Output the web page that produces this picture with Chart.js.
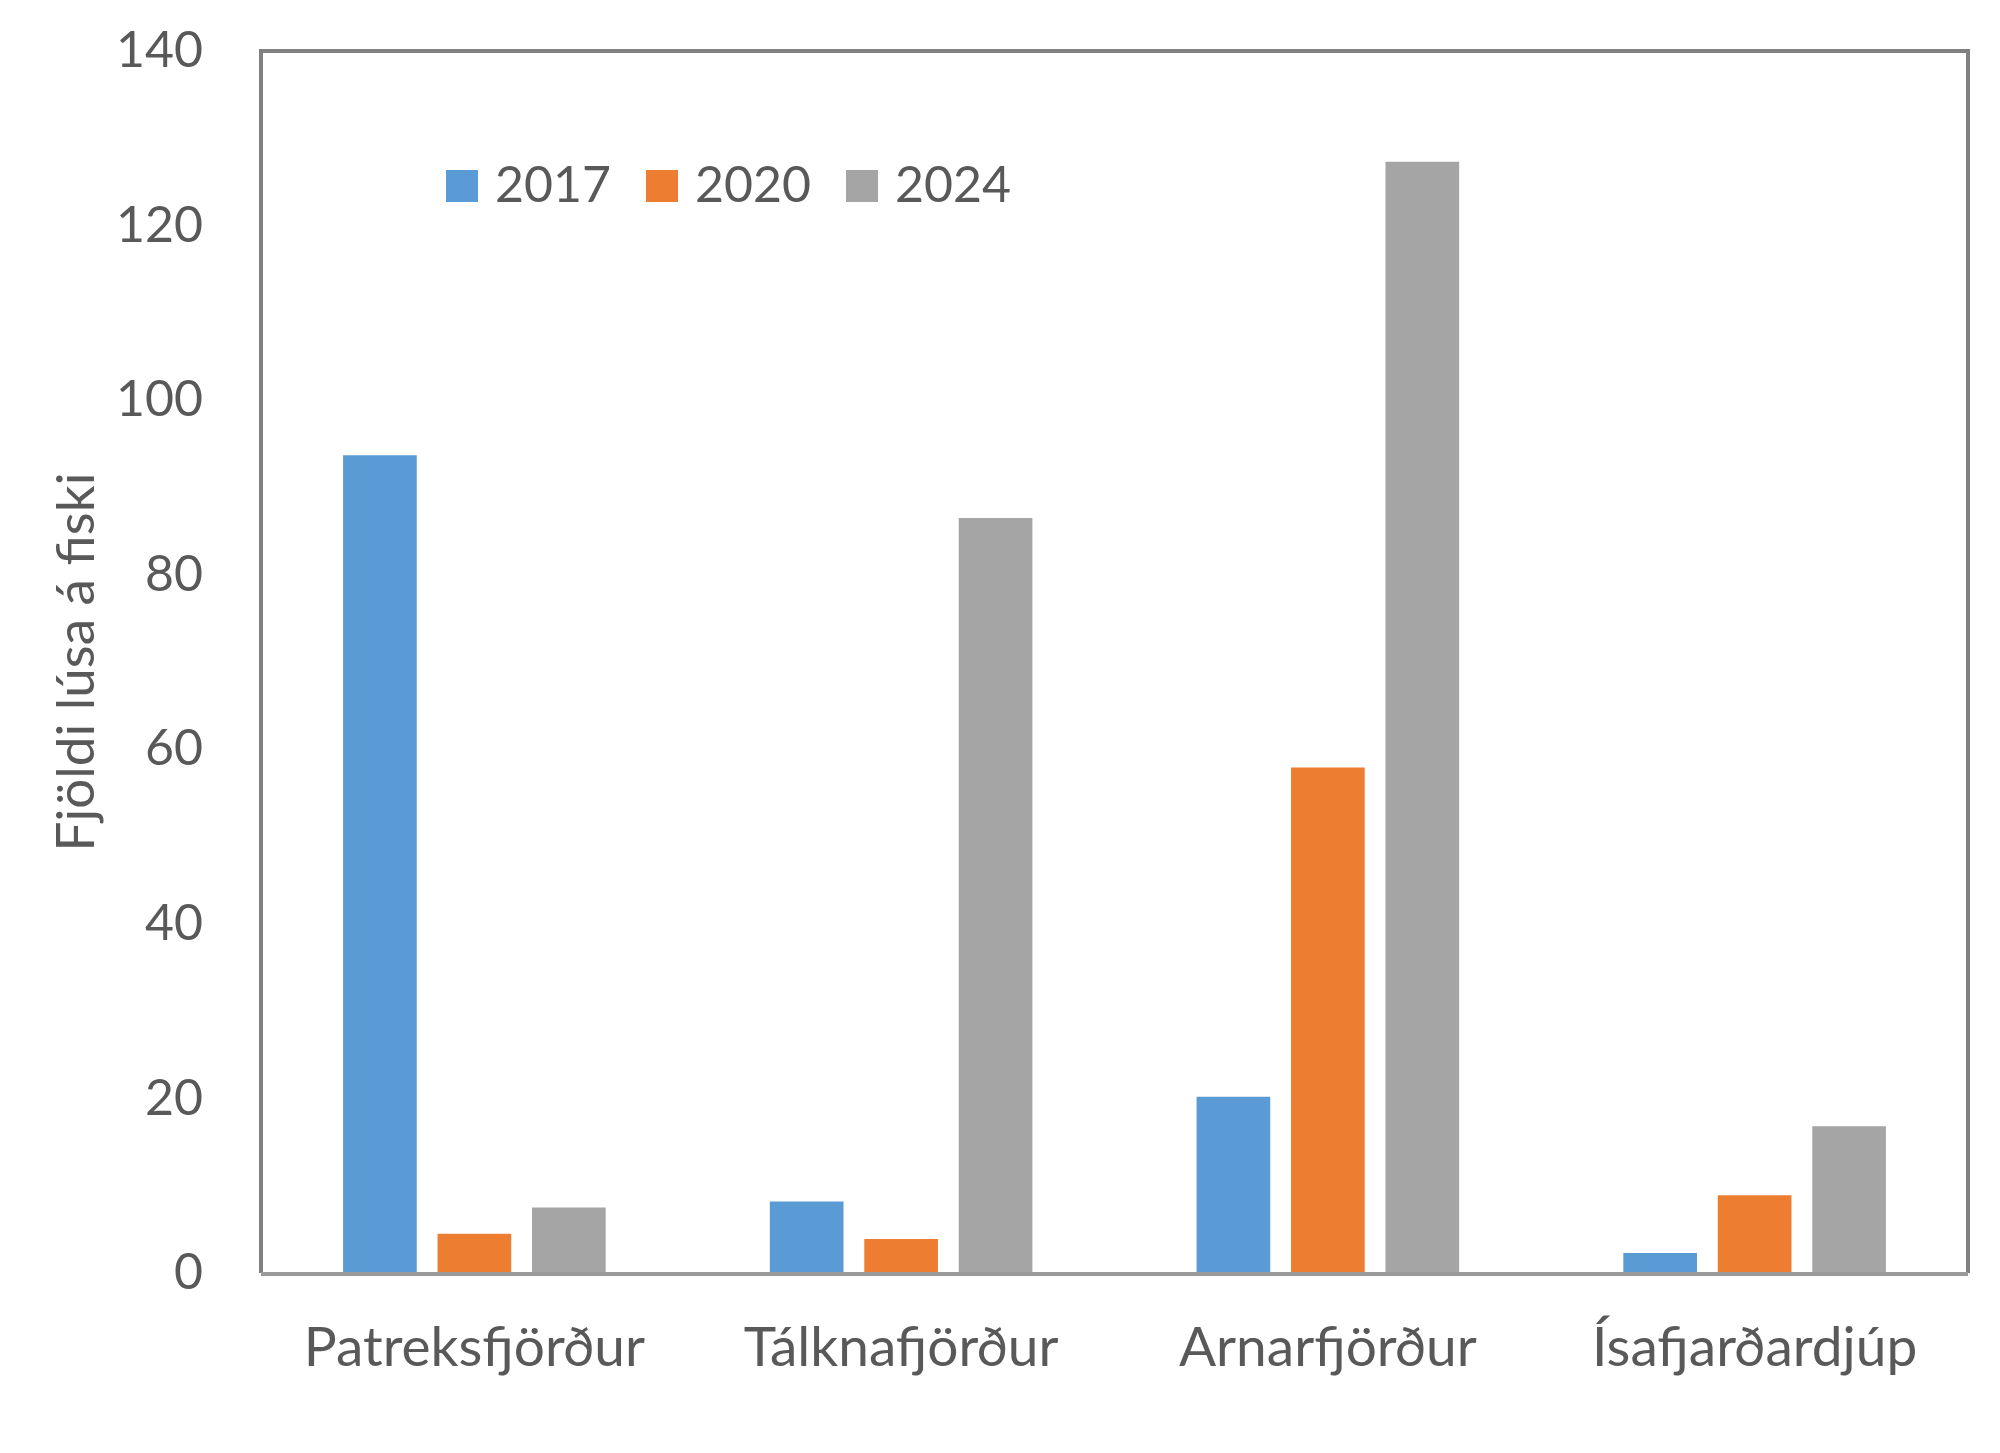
<!DOCTYPE html>
<html>
<head>
<meta charset="utf-8">
<script src="https://cdn.jsdelivr.net/npm/chart.js@4/dist/chart.umd.min.js"></script>
<style>
  html, body { margin: 0; padding: 0; background: #fff; }
  #wrap { width: 2000px; height: 1453px; }
</style>
</head>
<body>
<div id="wrap"><canvas id="chart" width="2000" height="1453"></canvas></div>
<script>
const categories = ["Patreksfjörður", "Tálknafjörður", "Arnarfjörður", "Ísafjarðardjúp"];
const years = ["2017", "2020", "2024"];
const values2017 = [93.7, 8.2, 20.2, 2.3];
const values2020 = [4.5, 3.9, 57.9, 8.9];
const values2024 = [7.5, 86.5, 127.3, 16.8];
const yTicks = [0, 20, 40, 60, 80, 100, 120, 140];
const colors = ["#5b9bd5", "#ed7d31", "#a5a5a5"];
const yTitle = "Fjöldi lúsa á fiski";

const textColor = "#595959";
const fontFamily = "Lato, 'Open Sans', sans-serif";

// box around plot area + legend drawn inside the plot
const boxAndLegend = {
  id: "boxAndLegend",
  afterDraw(chart) {
    const { ctx, chartArea: a } = chart;
    ctx.save();
    ctx.strokeStyle = "#808080";
    ctx.lineWidth = 4;
    ctx.beginPath();
    ctx.moveTo(a.left, a.bottom);
    ctx.lineTo(a.left, a.top);
    ctx.lineTo(a.right, a.top);
    ctx.lineTo(a.right, a.bottom);
    ctx.stroke();
    ctx.strokeStyle = "#9a9a9a";
    ctx.beginPath();
    ctx.moveTo(a.left, a.bottom + 1);
    ctx.lineTo(a.right, a.bottom + 1);
    ctx.stroke();

    // legend
    ctx.font = "50px " + fontFamily;
    ctx.textBaseline = "middle";
    let x = 446;
    const y = 186;
    chart.data.datasets.forEach((ds) => {
      ctx.fillStyle = ds.backgroundColor;
      ctx.fillRect(x, y - 16, 32, 32);
      ctx.fillStyle = textColor;
      ctx.fillText(ds.label, x + 49, y);
      x += 200;
    });
    ctx.restore();
  }
};

new Chart(document.getElementById("chart"), {
  type: "bar",
  data: {
    labels: categories,
    datasets: [
      { label: years[0], data: values2017, backgroundColor: colors[0] },
      { label: years[1], data: values2020, backgroundColor: colors[1] },
      { label: years[2], data: values2024, backgroundColor: colors[2] }
    ]
  },
  options: {
    responsive: false,
    animation: false,
    devicePixelRatio: 1,
    layout: { padding: { top: 51, right: 32, left: 0, bottom: 0 } },
    datasets: {
      bar: { categoryPercentage: 0.664, barPercentage: 0.78 }
    },
    plugins: {
      legend: { display: false },
      tooltip: { enabled: false }
    },
    scales: {
      x: {
        grid: { display: false, drawTicks: false },
        border: { display: false },
        ticks: {
          color: textColor,
          font: { family: fontFamily, size: 55 },
          padding: 42
        },
        afterFit(scale) {
          scale.height = 180;
          scale.paddingLeft = 0;
          scale.paddingRight = 0;
        }
      },
      y: {
        min: 0,
        max: 140,
        afterBuildTicks(scale) { scale.ticks = yTicks.map(v => ({ value: v })); },
        grid: { display: false, drawTicks: false },
        border: { display: false },
        ticks: {
          color: textColor,
          font: { family: fontFamily, size: 50 },
          padding: 58
        },
        title: {
          display: true,
          text: yTitle,
          color: textColor,
          font: { family: fontFamily, size: 53 },
          padding: { top: 45, bottom: 0 }
        },
        afterFit(scale) {
          scale.width = 261;
          scale.paddingTop = 0;
          scale.paddingBottom = 0;
        }
      }
    }
  },
  plugins: [boxAndLegend]
});
</script>
</body>
</html>
